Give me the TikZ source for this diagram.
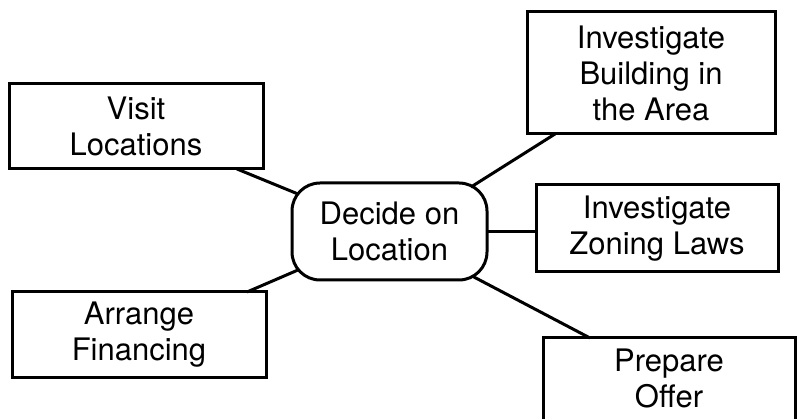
\documentclass[tikz,border=0pt]{standalone}
\usepackage{fontspec}
\setmainfont{TeX Gyre Heros}
\begin{document}
\begin{tikzpicture}[x=1pt,y=-1pt,
  box/.style={draw, line width=3pt, align=center, inner sep=0pt, outer sep=0pt,
    font=\fontsize{31}{36}\selectfont},
  txt/.style={align=center, inner sep=0pt, font=\fontsize{31}{36}\selectfont},
  link/.style={line width=3pt},
]
\fill[white] (0,0) rectangle (798,419);
\useasboundingbox (0,0) rectangle (798,419);
\clip (0,0) rectangle (798,419);

\node[box, minimum width=254pt, minimum height=85pt] (visit) at (136,126.5) {Visit\\Locations};
\node[box, minimum width=248pt, minimum height=122pt] (bldg) at (651,73) {Investigate\\Building in\\the Area};
\node[box, rounded corners=28pt, minimum width=195pt, minimum height=97pt] (decide) at (389.5,231.5) {Decide on\\Location};
\node[box, minimum width=242pt, minimum height=87pt] (zoning) at (657,228.5) {Investigate\\Zoning Laws};
\node[box, minimum width=254pt, minimum height=86pt] (arrange) at (139,335) {Arrange\\Financing};
\node[box, minimum width=252pt, minimum height=102pt] (prep) at (669,389) {};
\node[txt] (preptext) at (669,378) {Prepare\\Offer};

\draw[link] ([xshift=-26pt]visit.south east) -- ([xshift=6pt,yshift=-11pt]decide.north west);
\draw[link] ([xshift=28pt]bldg.south west) -- ([xshift=-16pt,yshift=-4pt]decide.north east);
\draw[link] (decide.east) -- (decide.east -| zoning.west);
\draw[link] ([xshift=-19pt]arrange.north east) -- ([xshift=6pt,yshift=10pt]decide.south west);
\draw[link] ([xshift=-15pt,yshift=4pt]decide.south east) -- ([xshift=47pt]prep.north west);
\end{tikzpicture}
\end{document}
